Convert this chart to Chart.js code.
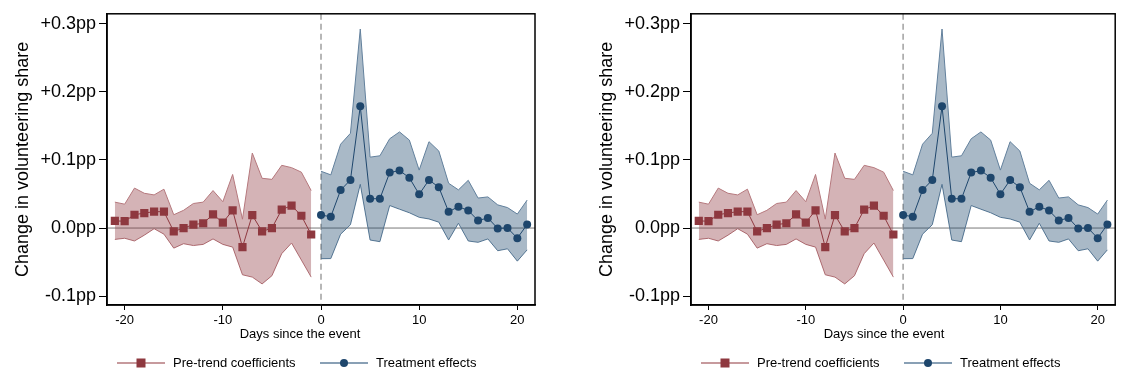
<!DOCTYPE html>
<html>
<head>
<meta charset="utf-8">
<script src="https://cdn.jsdelivr.net/npm/chart.js@4"></script>
<style>
  html, body { margin: 0; padding: 0; background: #fff; overflow: hidden; }
  .panel { position: absolute; top: 0; height: 376px; }
  #p1 { left: 0; width: 560px; }
  #p2 { left: 584px; width: 537px; }
</style>
</head>
<body>
<div class="panel" id="p1"><canvas id="chart1"></canvas></div>
<div class="panel" id="p2"><canvas id="chart2"></canvas></div>
<script>
// days relative to the event
var preDays = [-21,-20,-19,-18,-17,-16,-15,-14,-13,-12,-11,-10,-9,-8,-7,-6,-5,-4,-3,-2,-1];
var postDays = [0,1,2,3,4,5,6,7,8,9,10,11,12,13,14,15,16,17,18,19,20,21];

// pre-trend coefficients and their confidence band
var preCoef = [0.0105,0.010,0.0195,0.022,0.024,0.024,-0.005,0.000,0.005,0.007,0.020,0.008,0.026,-0.028,0.019,-0.005,0.000,0.027,0.033,0.018,-0.0095];
var preHigh = [0.038,0.035,0.0586,0.051,0.0486,0.057,0.0195,0.026,0.036,0.038,0.055,0.0386,0.0786,0.013,0.11,0.073,0.0714,0.092,0.0886,0.082,0.055];
var preLow  = [-0.0167,-0.015,-0.019,-0.0105,-0.001,-0.009,-0.0295,-0.023,-0.0257,-0.024,-0.016,-0.024,-0.028,-0.0686,-0.072,-0.082,-0.07,-0.0376,-0.022,-0.047,-0.072];

// treatment effects and their confidence band
var postCoef = [0.019,0.0167,0.0557,0.0705,0.1786,0.043,0.043,0.0814,0.0843,0.0738,0.0495,0.0705,0.060,0.0238,0.0314,0.0257,0.011,0.0148,-0.0005,0.000,-0.0148,0.0052];
var postHigh = [0.0833,0.078,0.123,0.139,0.292,0.104,0.106,0.131,0.141,0.129,0.085,0.1267,0.113,0.0657,0.056,0.070,0.044,0.0457,0.034,0.030,0.0205,0.041];
var postLow  = [-0.045,-0.0448,-0.009,0.0048,0.064,-0.0176,-0.020,0.033,0.0276,0.0224,0.0157,0.0133,0.0086,-0.0176,0.007,-0.019,-0.021,-0.016,-0.0333,-0.0305,-0.0486,-0.032];

var xTicks = [-20,-10,0,10,20];
var yTicks = [-0.1,0,0.1,0.2,0.3];
var yTickLabels = ['-0.1pp','0.0pp','+0.1pp','+0.2pp','+0.3pp'];

var seriesNames = ['Pre-trend coefficients','Treatment effects'];
var xTitle = 'Days since the event';
var yTitle = 'Change in volunteering share';

var RED = 'rgb(142,56,63)', RED_EDGE = 'rgb(181,120,125)', RED_FILL = 'rgba(142,56,63,0.38)';
var BLUE = 'rgb(30,70,108)', BLUE_EDGE = 'rgb(98,128,156)', BLUE_FILL = 'rgba(30,70,108,0.38)';
var FONT = 'Arial, "Liberation Sans", sans-serif';

function pts(xs, ys) {
  return xs.map(function(x, i) { return {x: x, y: ys[i]}; });
}

function band(xs, ys, edge, fill, toNext) {
  return {
    data: pts(xs, ys), borderColor: edge, borderWidth: 1, backgroundColor: fill,
    pointRadius: 0, fill: toNext ? '+1' : false, tension: 0, order: 2
  };
}

var framePlugin = {
  id: 'frame',
  beforeDatasetsDraw: function(chart) {
    var c = chart.ctx, a = chart.chartArea;
    var x0 = chart.scales.x.getPixelForValue(0);
    var y0 = chart.scales.y.getPixelForValue(0);
    c.save();
    c.strokeStyle = 'rgb(120,120,120)';
    c.lineWidth = 1;
    c.beginPath(); c.moveTo(a.left, y0); c.lineTo(a.right, y0); c.stroke();
    c.strokeStyle = 'rgb(160,160,160)';
    c.lineWidth = 1.5;
    c.setLineDash([6, 4]);
    c.beginPath(); c.moveTo(x0, a.top); c.lineTo(x0, a.bottom); c.stroke();
    c.restore();
  },
  afterDraw: function(chart) {
    var c = chart.ctx, a = chart.chartArea;
    c.save();
    c.strokeStyle = '#000';
    c.lineWidth = 1.5;
    c.strokeRect(a.left, a.top, a.right - a.left, a.bottom - a.top);

    c.fillStyle = '#000';
    c.font = '13px ' + FONT;
    c.textAlign = 'center';
    c.textBaseline = 'middle';
    c.fillText(xTitle, 300, 334);

    // legend: line with marker, then label
    var ly = 363;
    var items = [
      {x: 117, edge: RED_EDGE, color: RED, style: 'rect', label: seriesNames[0]},
      {x: 320, edge: BLUE_EDGE, color: BLUE, style: 'circle', label: seriesNames[1]}
    ];
    items.forEach(function(it) {
      c.strokeStyle = it.edge;
      c.lineWidth = 1.5;
      c.beginPath(); c.moveTo(it.x, ly); c.lineTo(it.x + 48, ly); c.stroke();
      c.fillStyle = it.color;
      if (it.style === 'rect') {
        c.fillRect(it.x + 24 - 4.5, ly - 4.5, 9, 9);
      } else {
        c.beginPath(); c.arc(it.x + 24, ly, 4, 0, Math.PI * 2); c.fill();
      }
      c.fillStyle = '#000';
      c.textAlign = 'left';
      c.fillText(it.label, it.x + 56, ly);
    });
    c.restore();
  }
};

function makeChart(id, padRight) {
  var ctx = document.getElementById(id).getContext('2d');
  return new Chart(ctx, {
    type: 'line',
    data: {
      datasets: [
        band(preDays, preHigh, RED_EDGE, RED_FILL, true),
        band(preDays, preLow, RED_EDGE, RED_FILL, false),
        band(postDays, postHigh, BLUE_EDGE, BLUE_FILL, true),
        band(postDays, postLow, BLUE_EDGE, BLUE_FILL, false),
        {
          label: seriesNames[0], data: pts(preDays, preCoef), borderColor: RED, borderWidth: 1,
          backgroundColor: RED, pointStyle: 'rect', pointRadius: 5.8, pointBorderWidth: 0,
          fill: false, tension: 0, order: 0
        },
        {
          label: seriesNames[1], data: pts(postDays, postCoef), borderColor: BLUE, borderWidth: 1,
          backgroundColor: BLUE, pointStyle: 'circle', pointRadius: 4, pointBorderWidth: 0,
          fill: false, tension: 0, order: 0
        }
      ]
    },
    options: {
      responsive: true,
      maintainAspectRatio: false,
      animation: false,
      layout: { padding: { top: 7, right: padRight, bottom: 0, left: 0 } },
      plugins: { legend: { display: false }, tooltip: { enabled: false } },
      scales: {
        x: {
          type: 'linear', min: -21.8, max: 21.8,
          afterBuildTicks: function(s) { s.ticks = xTicks.map(function(v) { return {value: v}; }); },
          afterFit: function(s) { s.height = 71; },
          grid: { drawOnChartArea: false, drawTicks: true, tickLength: 5, color: '#000' },
          border: { display: true, color: '#000', width: 1.5 },
          ticks: { font: { size: 13, family: FONT }, color: '#000', padding: 3, maxRotation: 0 }
        },
        y: {
          type: 'linear', min: -0.1129, max: 0.3143,
          afterBuildTicks: function(s) { s.ticks = yTicks.map(function(v) { return {value: v}; }); },
          afterFit: function(s) { s.width = 107; },
          grid: { drawOnChartArea: false, drawTicks: true, tickLength: 8, color: '#000' },
          border: { display: true, color: '#000', width: 1.5 },
          ticks: {
            font: { size: 18, family: FONT }, color: '#000', padding: 3,
            callback: function(v) {
              var i = yTicks.findIndex(function(t) { return Math.abs(t - v) < 1e-9; });
              return i >= 0 ? yTickLabels[i] : '';
            }
          },
          title: { display: true, text: yTitle, color: '#000', font: { size: 18, family: FONT }, padding: { top: 12, bottom: 0 } }
        }
      }
    },
    plugins: [framePlugin]
  });
}

makeChart('chart1', 25);
makeChart('chart2', 1);
</script>
</body>
</html>
